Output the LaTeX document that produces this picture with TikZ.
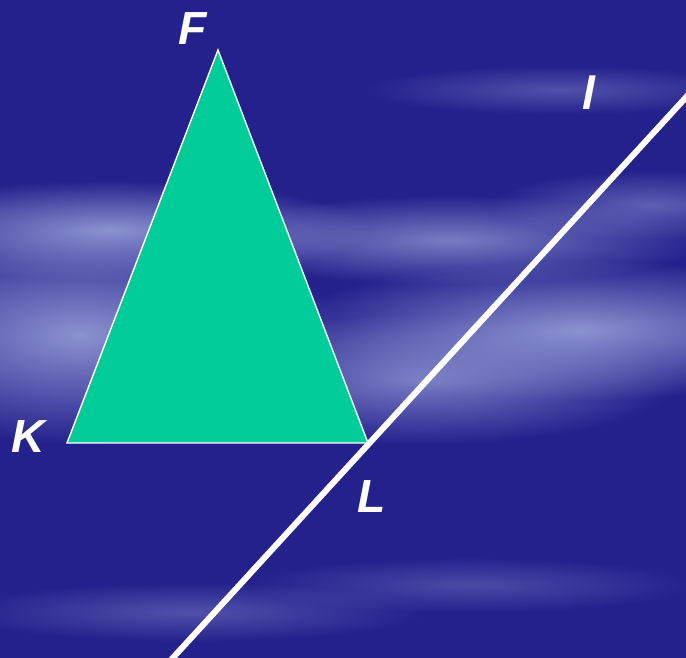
\documentclass[tikz,border=0pt]{standalone}
\usepackage{fontspec}
\setmainfont{Liberation Sans}
\usetikzlibrary{fadings}
\definecolor{skyblue}{RGB}{36,32,140}
\definecolor{cloudcol}{RGB}{165,175,225}
\definecolor{tricol}{RGB}{0,204,153}
\tikzfading[name=softblob, inner color=transparent!0, outer color=transparent!100]

\begin{document}
\begin{tikzpicture}[
    x=0.025cm, y=-0.025cm,
    cloud/.style={fill=cloudcol, path fading=softblob},
    lbl/.style={text=white, font=\fontsize{33}{33}\selectfont\bfseries\itshape,
                inner sep=0pt}
  ]
  \fill[skyblue] (0,0) rectangle (686,658);
  \useasboundingbox (0,0) rectangle (686,658);
  \clip (0,0) rectangle (686,658);

  % clouds
  \fill[cloud, opacity=0.80] (110,230) ellipse (260 and 50);
  \fill[cloud, opacity=0.65] (450,240) ellipse (260 and 45);
  \fill[cloud, opacity=0.80] (80,335) ellipse (260 and 110);
  \fill[cloud, opacity=0.80] (580,330) ellipse (300 and 70);
  \fill[cloud, opacity=0.65] (420,380) ellipse (260 and 65);
  \fill[cloud, opacity=0.45] (650,205) ellipse (160 and 35);
  \fill[cloud, opacity=0.35] (560,90) ellipse (200 and 25);
  \fill[cloud, opacity=0.35] (190,612) ellipse (240 and 30);
  \fill[cloud, opacity=0.30] (470,585) ellipse (230 and 28);

  \coordinate (F) at (218,50);
  \coordinate (K) at (67,443);
  \coordinate (L) at (368,443);
  \coordinate (lb) at (170,661);
  \coordinate (lt) at (689,94);

  \filldraw[fill=tricol, draw=white, line width=1pt] (F) -- (K) -- (L) -- cycle;
  \draw[white, line width=4.3pt] (lb) -- (lt);

  \node[lbl] (labF) at (193,29) {F};
  \node[lbl] (labK) at (28,437) {K};
  \node[lbl] (labL) at (372,497) {L};
  \node[lbl] (labl) at (589,93) {l};
\end{tikzpicture}
\end{document}
